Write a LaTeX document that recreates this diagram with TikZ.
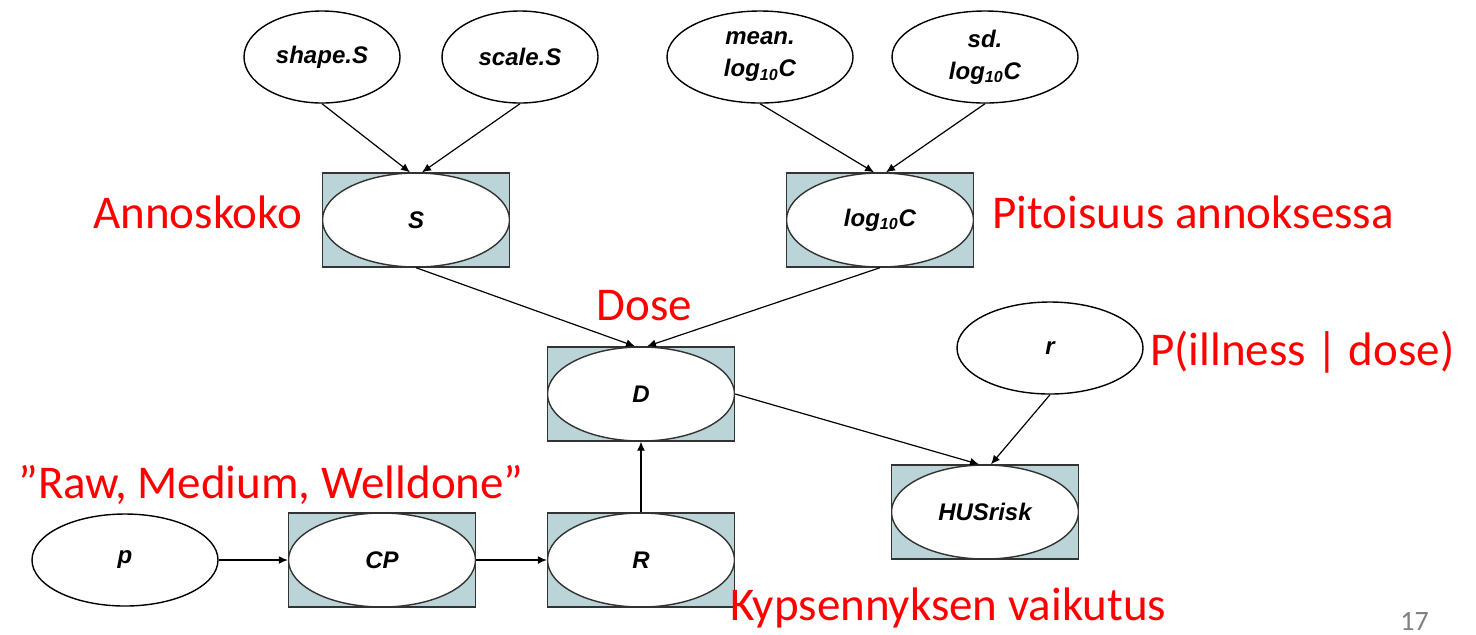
\documentclass[tikz,border=0pt]{standalone}
\usepackage{fontspec}
\setmainfont{Carlito}
\newfontfamily\varfont{Liberation Sans}
\usetikzlibrary{shapes.geometric, arrows.meta}
\definecolor{plateblue}{RGB}{187,212,216}
\definecolor{notered}{RGB}{255,0,0}

\begin{document}
\begin{tikzpicture}[x=0.5pt, y=-0.5pt, >={Latex[length=4.5pt,width=4pt]},
  var/.style={ellipse, draw, line width=0.7pt, inner sep=0pt, minimum width=93pt, minimum height=46pt, align=center, font={\varfont\bfseries\itshape\fontsize{12}{16}\selectfont}},
  topvar/.style={var, minimum width=78pt},
  logical/.style={rectangle, draw=black!80, line width=0.7pt, fill=plateblue, minimum width=93.5pt, minimum height=47pt, inner sep=0pt, font={\varfont\bfseries\itshape\fontsize{12}{16}\selectfont},
    path picture={\draw[line width=0.7pt, fill=white] (path picture bounding box.center) ellipse [x radius=46.75pt, y radius=23.5pt];}},
  note/.style={text=notered, inner sep=0pt, anchor=base west, font=\fontsize{23.5}{28}\selectfont}]
\useasboundingbox[fill=white] (0,0) rectangle (1476,634);
% parameters
\node[topvar] (shapeS) at (322, 57) {shape.S};
\node[topvar] (scaleS) at (520, 57) {scale.S};
\node[var] (meanC) at (760, 57) {mean.\\log\textsubscript{10}C};
\node[var] (sdC) at (985, 57) {sd.\\log\textsubscript{10}C};
\node[var] (r) at (1050, 348) {r};
\node[var] (p) at (125, 560) {p};
% logical nodes
\node[logical] (S) at (416, 220) {S};
\node[logical] (logC) at (880, 220) {log\textsubscript{10}C};
\node[logical] (D) at (641, 394) {D};
\node[logical] (HUS) at (985, 512) {HUSrisk};
\node[logical] (CP) at (382, 560) {CP};
\node[logical] (R) at (641, 560) {R};
% edges
\draw[->, line width=0.6pt] (shapeS.south) -- ([xshift=-3pt]S.north); \draw[->, line width=0.6pt] (scaleS.south) -- ([xshift=3pt]S.north);
\draw[->, line width=0.6pt] (meanC.south) -- ([xshift=-3pt]logC.north); \draw[->, line width=0.6pt] (sdC.south) -- ([xshift=3pt]logC.north);
\draw[->, line width=0.6pt] (S.south) -- ([xshift=-3pt]D.north); \draw[->, line width=0.6pt] (logC.south) -- ([xshift=3pt]D.north);
\draw[->, line width=0.6pt] (D.east) -- ([xshift=-3pt]HUS.north); \draw[->, line width=0.6pt] (r.south) -- ([xshift=3pt]HUS.north);
\draw[->, line width=0.6pt] (p) -- (CP); \draw[->, line width=0.6pt] (CP) -- (R); \draw[->, line width=0.6pt] (R) -- (D);
% red notes
\node[note] (lblS) at (93, 228) {Annoskoko};
\node[note] (lblC) at (992, 228) {Pitoisuus annoksessa};
\node[note] (lblD) at (596, 320) {Dose};
\node[note] (lblr) at (1150, 365) {P(illness | dose)};
\node[note] (lblCP) at (18, 498) {”Raw, Medium, Welldone”};
\node[note] (lblR) at (730, 620) {Kypsennyksen vaikutus};
\node[text=gray, inner sep=0pt, anchor=base west, font=\fontsize{14}{16}\selectfont] (page) at (1400, 630) {17};
\end{tikzpicture}
\end{document}
